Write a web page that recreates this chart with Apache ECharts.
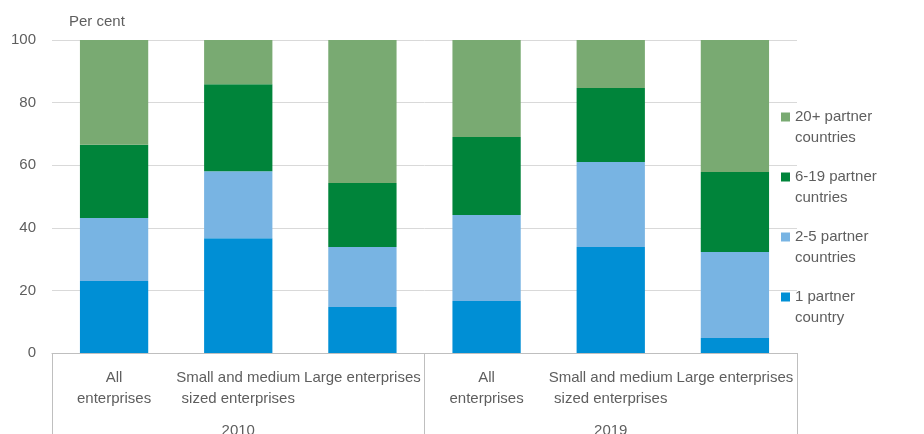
<!DOCTYPE html>
<html><head><meta charset="utf-8">
<script src="https://cdn.jsdelivr.net/npm/echarts@6/dist/echarts.min.js"></script>
<style>html,body{margin:0;padding:0;background:#fff}#c{width:924px;height:434px}</style>
</head><body><div id="c"></div>
<script>
const categories = ['All\nenterprises','Small and medium\nsized enterprises','Large enterprises','All\nenterprises','Small and medium\nsized enterprises','Large enterprises'];
const years = ['2010','2019'];
const yTicks = [0,20,40,60,80,100];
const seriesNames = ['1 partner country','2-5 partner countries','6-19 partner cuntries','20+ partner countries'];
const onePartner = [23.0, 36.7, 14.7, 16.6, 33.9, 4.8];
const twoToFive = [20.1, 21.4, 19.2, 27.5, 27.1, 27.5];
const sixToNineteen = [23.4, 27.8, 20.4, 24.9, 23.7, 25.5];
const twentyPlus = [33.5, 14.1, 45.7, 31.0, 15.3, 42.2];
const colors = ['#008fd5','#78b4e3','#00843a','#79aa72'];

const font = "'Liberation Sans',Arial,sans-serif";
const txt = '#5e5e5e';
const fs = 15;
const data = [onePartner, twoToFive, sixToNineteen, twentyPlus];
const legendOrder = [seriesNames[3],seriesNames[2],seriesNames[1],seriesNames[0]];
const legendBase = {
  orient:'vertical',left:776,itemWidth:9,itemHeight:9,itemGap:40,
  data:legendOrder,icon:'rect',selectedMode:false,
  textStyle:{fontFamily:font,fontSize:fs,color:txt,lineHeight:20}
};
const chart = echarts.init(document.getElementById('c'));
chart.setOption({
  animation:false,
  textStyle:{fontFamily:font},
  title:{text:'Per cent',left:64,top:9,textStyle:{fontFamily:font,fontSize:fs,fontWeight:'normal',color:txt}},
  grid:{left:52,right:127,top:40,bottom:81,outerBoundsMode:'none',containLabel:false},
  legend:[
    Object.assign({},legendBase,{top:102,formatter:n=>n.split(' partner ')[0]+' partner'}),
    Object.assign({},legendBase,{top:123,itemStyle:{opacity:0},formatter:n=>n.split(' partner ')[1]})
  ],
  xAxis:[{
    type:'category',data:categories,position:'bottom',
    axisLine:{lineStyle:{color:'#bfbfbf'}},axisTick:{show:false},
    axisLabel:{interval:0,hideOverlap:false,color:txt,fontSize:fs,lineHeight:21,margin:14,fontFamily:font}
  },{
    type:'category',data:years,position:'bottom',gridIndex:0,
    axisLine:{show:false},
    axisTick:{show:true,length:82,alignWithLabel:false,lineStyle:{color:'#bfbfbf'}},
    axisLabel:{color:txt,fontSize:fs,margin:70,fontFamily:font}
  }],
  yAxis:{
    type:'value',min:0,max:100,interval:20,
    axisLine:{show:false},axisTick:{show:false},
    splitLine:{lineStyle:{color:'#d9d9d9'}},
    axisLabel:{color:txt,fontSize:fs,margin:16,fontFamily:font,formatter:v=>yTicks.includes(v)?String(v):''}
  },
  series:seriesNames.map((n,i)=>({
    name:n,type:'bar',stack:'t',barWidth:'55%',xAxisIndex:0,
    itemStyle:{color:colors[i]},data:data[i]
  })),
  color:colors
});
</script></body></html>
